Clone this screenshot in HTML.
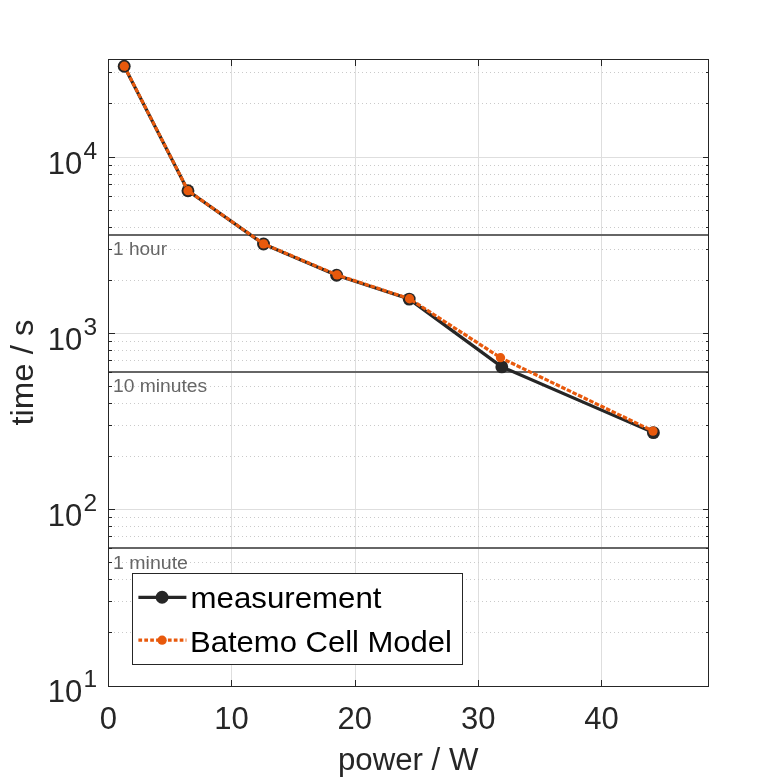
<!DOCTYPE html>
<html lang="en"><head><meta charset="utf-8"><title>Discharge time vs power</title>
<style>html,body{margin:0;padding:0;background:#fff;}svg{display:block;}text{font-family:"Liberation Sans",sans-serif;}.tk{font-size:31px;fill:#262626;}.sup{font-size:24.5px;fill:#262626;}.lab{font-size:30.8px;fill:#262626;}.ann{font-size:18px;fill:#666;}.leg{font-size:30px;fill:#000;}</style></head><body>
<svg width="781" height="781" viewBox="0 0 781 781">
<rect x="0" y="0" width="781" height="781" fill="#fff"/>
<g stroke="#dedede" stroke-width="1" shape-rendering="crispEdges">
<line x1="231.5" y1="59.5" x2="231.5" y2="686.5"/>
<line x1="355.5" y1="59.5" x2="355.5" y2="686.5"/>
<line x1="478.5" y1="59.5" x2="478.5" y2="686.5"/>
<line x1="601.5" y1="59.5" x2="601.5" y2="686.5"/>
<line x1="108.5" y1="509.5" x2="708.5" y2="509.5"/>
<line x1="108.5" y1="333.5" x2="708.5" y2="333.5"/>
<line x1="108.5" y1="157.5" x2="708.5" y2="157.5"/>
</g>
<g stroke="#cacaca" stroke-width="1" stroke-dasharray="1 3" fill="none" shape-rendering="crispEdges">
<line x1="110" y1="632.5" x2="708" y2="632.5"/>
<line x1="110" y1="601.5" x2="708" y2="601.5"/>
<line x1="110" y1="579.5" x2="708" y2="579.5"/>
<line x1="110" y1="562.5" x2="708" y2="562.5"/>
<line x1="110" y1="548.5" x2="708" y2="548.5"/>
<line x1="110" y1="536.5" x2="708" y2="536.5"/>
<line x1="110" y1="526.5" x2="708" y2="526.5"/>
<line x1="110" y1="517.5" x2="708" y2="517.5"/>
<line x1="110" y1="456.5" x2="708" y2="456.5"/>
<line x1="110" y1="425.5" x2="708" y2="425.5"/>
<line x1="110" y1="403.5" x2="708" y2="403.5"/>
<line x1="110" y1="386.5" x2="708" y2="386.5"/>
<line x1="110" y1="372.5" x2="708" y2="372.5"/>
<line x1="110" y1="360.5" x2="708" y2="360.5"/>
<line x1="110" y1="350.5" x2="708" y2="350.5"/>
<line x1="110" y1="341.5" x2="708" y2="341.5"/>
<line x1="110" y1="280.5" x2="708" y2="280.5"/>
<line x1="110" y1="249.5" x2="708" y2="249.5"/>
<line x1="110" y1="227.5" x2="708" y2="227.5"/>
<line x1="110" y1="210.5" x2="708" y2="210.5"/>
<line x1="110" y1="196.5" x2="708" y2="196.5"/>
<line x1="110" y1="184.5" x2="708" y2="184.5"/>
<line x1="110" y1="174.5" x2="708" y2="174.5"/>
<line x1="110" y1="165.5" x2="708" y2="165.5"/>
<line x1="110" y1="103.5" x2="708" y2="103.5"/>
<line x1="110" y1="72.5" x2="708" y2="72.5"/>
</g>
<g stroke="#666" stroke-width="2" shape-rendering="crispEdges">
<line x1="108.5" y1="235" x2="708.5" y2="235"/>
<line x1="108.5" y1="372" x2="708.5" y2="372"/>
<line x1="108.5" y1="548" x2="708.5" y2="548"/>
</g>
<text class="ann" x="113" y="254.6" textLength="54" lengthAdjust="spacingAndGlyphs">1 hour</text>
<text class="ann" x="113" y="391.6" textLength="94.2" lengthAdjust="spacingAndGlyphs">10 minutes</text>
<text class="ann" x="113" y="568.6" textLength="75" lengthAdjust="spacingAndGlyphs">1 minute</text>
<polyline points="124.2,66.3 187.96,190.8 263.5,244.05 336.6,275.3 409.2,299.1 501.8,366.9 653.4,432.65" fill="none" stroke="#262626" stroke-width="3.2" stroke-linejoin="round"/>
<circle cx="124.2" cy="66.3" r="6.45" fill="#262626"/>
<circle cx="187.96" cy="190.8" r="6.45" fill="#262626"/>
<circle cx="263.5" cy="244.05" r="6.45" fill="#262626"/>
<circle cx="336.6" cy="275.3" r="6.45" fill="#262626"/>
<circle cx="409.2" cy="299.1" r="6.45" fill="#262626"/>
<circle cx="501.8" cy="366.9" r="6.45" fill="#262626"/>
<circle cx="653.4" cy="432.65" r="6.45" fill="#262626"/>
<polyline points="124.3,66.2 188.0,190.7 263.6,243.9 337.1,274.95 409.5,298.75 500.5,357.7 653.0,431.1" fill="none" stroke="#E8590C" stroke-width="3.2" stroke-dasharray="4.6 1.6" stroke-linejoin="round"/>
<circle cx="124.3" cy="66.2" r="4.65" fill="#E8590C"/>
<circle cx="188.0" cy="190.7" r="4.65" fill="#E8590C"/>
<circle cx="263.6" cy="243.9" r="4.65" fill="#E8590C"/>
<circle cx="337.1" cy="274.95" r="4.65" fill="#E8590C"/>
<circle cx="409.5" cy="298.75" r="4.65" fill="#E8590C"/>
<circle cx="500.5" cy="357.7" r="4.65" fill="#E8590C"/>
<circle cx="653.0" cy="431.1" r="4.65" fill="#E8590C"/>
<rect x="108.5" y="59.5" width="600.0" height="627.0" fill="none" stroke="#262626" stroke-width="1" shape-rendering="crispEdges"/>
<g stroke="#262626" stroke-width="1" shape-rendering="crispEdges">
<line x1="231.5" y1="686.5" x2="231.5" y2="680.0"/>
<line x1="231.5" y1="59.5" x2="231.5" y2="66.0"/>
<line x1="355.5" y1="686.5" x2="355.5" y2="680.0"/>
<line x1="355.5" y1="59.5" x2="355.5" y2="66.0"/>
<line x1="478.5" y1="686.5" x2="478.5" y2="680.0"/>
<line x1="478.5" y1="59.5" x2="478.5" y2="66.0"/>
<line x1="601.5" y1="686.5" x2="601.5" y2="680.0"/>
<line x1="601.5" y1="59.5" x2="601.5" y2="66.0"/>
<line x1="108.5" y1="509.5" x2="114.5" y2="509.5"/>
<line x1="708.5" y1="509.5" x2="702.5" y2="509.5"/>
<line x1="108.5" y1="333.5" x2="114.5" y2="333.5"/>
<line x1="708.5" y1="333.5" x2="702.5" y2="333.5"/>
<line x1="108.5" y1="157.5" x2="114.5" y2="157.5"/>
<line x1="708.5" y1="157.5" x2="702.5" y2="157.5"/>
<line x1="108.5" y1="632.5" x2="111.5" y2="632.5"/>
<line x1="708.5" y1="632.5" x2="705.5" y2="632.5"/>
<line x1="108.5" y1="601.5" x2="111.5" y2="601.5"/>
<line x1="708.5" y1="601.5" x2="705.5" y2="601.5"/>
<line x1="108.5" y1="579.5" x2="111.5" y2="579.5"/>
<line x1="708.5" y1="579.5" x2="705.5" y2="579.5"/>
<line x1="108.5" y1="562.5" x2="111.5" y2="562.5"/>
<line x1="708.5" y1="562.5" x2="705.5" y2="562.5"/>
<line x1="108.5" y1="548.5" x2="111.5" y2="548.5"/>
<line x1="708.5" y1="548.5" x2="705.5" y2="548.5"/>
<line x1="108.5" y1="536.5" x2="111.5" y2="536.5"/>
<line x1="708.5" y1="536.5" x2="705.5" y2="536.5"/>
<line x1="108.5" y1="526.5" x2="111.5" y2="526.5"/>
<line x1="708.5" y1="526.5" x2="705.5" y2="526.5"/>
<line x1="108.5" y1="517.5" x2="111.5" y2="517.5"/>
<line x1="708.5" y1="517.5" x2="705.5" y2="517.5"/>
<line x1="108.5" y1="456.5" x2="111.5" y2="456.5"/>
<line x1="708.5" y1="456.5" x2="705.5" y2="456.5"/>
<line x1="108.5" y1="425.5" x2="111.5" y2="425.5"/>
<line x1="708.5" y1="425.5" x2="705.5" y2="425.5"/>
<line x1="108.5" y1="403.5" x2="111.5" y2="403.5"/>
<line x1="708.5" y1="403.5" x2="705.5" y2="403.5"/>
<line x1="108.5" y1="386.5" x2="111.5" y2="386.5"/>
<line x1="708.5" y1="386.5" x2="705.5" y2="386.5"/>
<line x1="108.5" y1="372.5" x2="111.5" y2="372.5"/>
<line x1="708.5" y1="372.5" x2="705.5" y2="372.5"/>
<line x1="108.5" y1="360.5" x2="111.5" y2="360.5"/>
<line x1="708.5" y1="360.5" x2="705.5" y2="360.5"/>
<line x1="108.5" y1="350.5" x2="111.5" y2="350.5"/>
<line x1="708.5" y1="350.5" x2="705.5" y2="350.5"/>
<line x1="108.5" y1="341.5" x2="111.5" y2="341.5"/>
<line x1="708.5" y1="341.5" x2="705.5" y2="341.5"/>
<line x1="108.5" y1="280.5" x2="111.5" y2="280.5"/>
<line x1="708.5" y1="280.5" x2="705.5" y2="280.5"/>
<line x1="108.5" y1="249.5" x2="111.5" y2="249.5"/>
<line x1="708.5" y1="249.5" x2="705.5" y2="249.5"/>
<line x1="108.5" y1="227.5" x2="111.5" y2="227.5"/>
<line x1="708.5" y1="227.5" x2="705.5" y2="227.5"/>
<line x1="108.5" y1="210.5" x2="111.5" y2="210.5"/>
<line x1="708.5" y1="210.5" x2="705.5" y2="210.5"/>
<line x1="108.5" y1="196.5" x2="111.5" y2="196.5"/>
<line x1="708.5" y1="196.5" x2="705.5" y2="196.5"/>
<line x1="108.5" y1="184.5" x2="111.5" y2="184.5"/>
<line x1="708.5" y1="184.5" x2="705.5" y2="184.5"/>
<line x1="108.5" y1="174.5" x2="111.5" y2="174.5"/>
<line x1="708.5" y1="174.5" x2="705.5" y2="174.5"/>
<line x1="108.5" y1="165.5" x2="111.5" y2="165.5"/>
<line x1="708.5" y1="165.5" x2="705.5" y2="165.5"/>
<line x1="108.5" y1="103.5" x2="111.5" y2="103.5"/>
<line x1="708.5" y1="103.5" x2="705.5" y2="103.5"/>
<line x1="108.5" y1="72.5" x2="111.5" y2="72.5"/>
<line x1="708.5" y1="72.5" x2="705.5" y2="72.5"/>
</g>
<text class="tk" x="108.3" y="728.6" text-anchor="middle">0</text>
<text class="tk" x="231.5" y="728.6" text-anchor="middle">10</text>
<text class="tk" x="354.8" y="728.6" text-anchor="middle">20</text>
<text class="tk" x="478.3" y="728.6" text-anchor="middle">30</text>
<text class="tk" x="601.6" y="728.6" text-anchor="middle">40</text>
<text class="tk" x="82.3" y="701.9000000000001" text-anchor="end">10</text>
<text class="sup" x="83.4" y="686.9000000000001">1</text>
<text class="tk" x="82.3" y="525.9000000000001" text-anchor="end">10</text>
<text class="sup" x="83.4" y="510.90000000000003">2</text>
<text class="tk" x="82.3" y="349.90000000000003" text-anchor="end">10</text>
<text class="sup" x="83.4" y="334.90000000000003">3</text>
<text class="tk" x="82.3" y="173.90000000000003" text-anchor="end">10</text>
<text class="sup" x="83.4" y="158.90000000000003">4</text>
<text class="lab" x="408.2" y="770.3" text-anchor="middle" textLength="140.5" lengthAdjust="spacingAndGlyphs">power / W</text>
<text class="lab" transform="translate(33.2,372.6) rotate(-90)" text-anchor="middle" textLength="106" lengthAdjust="spacingAndGlyphs">time / s</text>
<rect x="132.5" y="573.5" width="330" height="90.5" fill="#fff" stroke="#262626" stroke-width="1" shape-rendering="crispEdges"/>
<line x1="138.4" y1="597.3" x2="186.4" y2="597.3" stroke="#262626" stroke-width="3.2"/>
<circle cx="162.1" cy="597.3" r="6.45" fill="#262626"/>
<line x1="138.4" y1="640.2" x2="186.4" y2="640.2" stroke="#E8590C" stroke-width="3.2" stroke-dasharray="3.7 2.2"/>
<circle cx="162.1" cy="640.2" r="4.65" fill="#E8590C"/>
<text class="leg" x="190.5" y="608.4" textLength="191" lengthAdjust="spacingAndGlyphs">measurement</text>
<text class="leg" x="190" y="651.7" textLength="262" lengthAdjust="spacingAndGlyphs">Batemo Cell Model</text>
</svg></body></html>
